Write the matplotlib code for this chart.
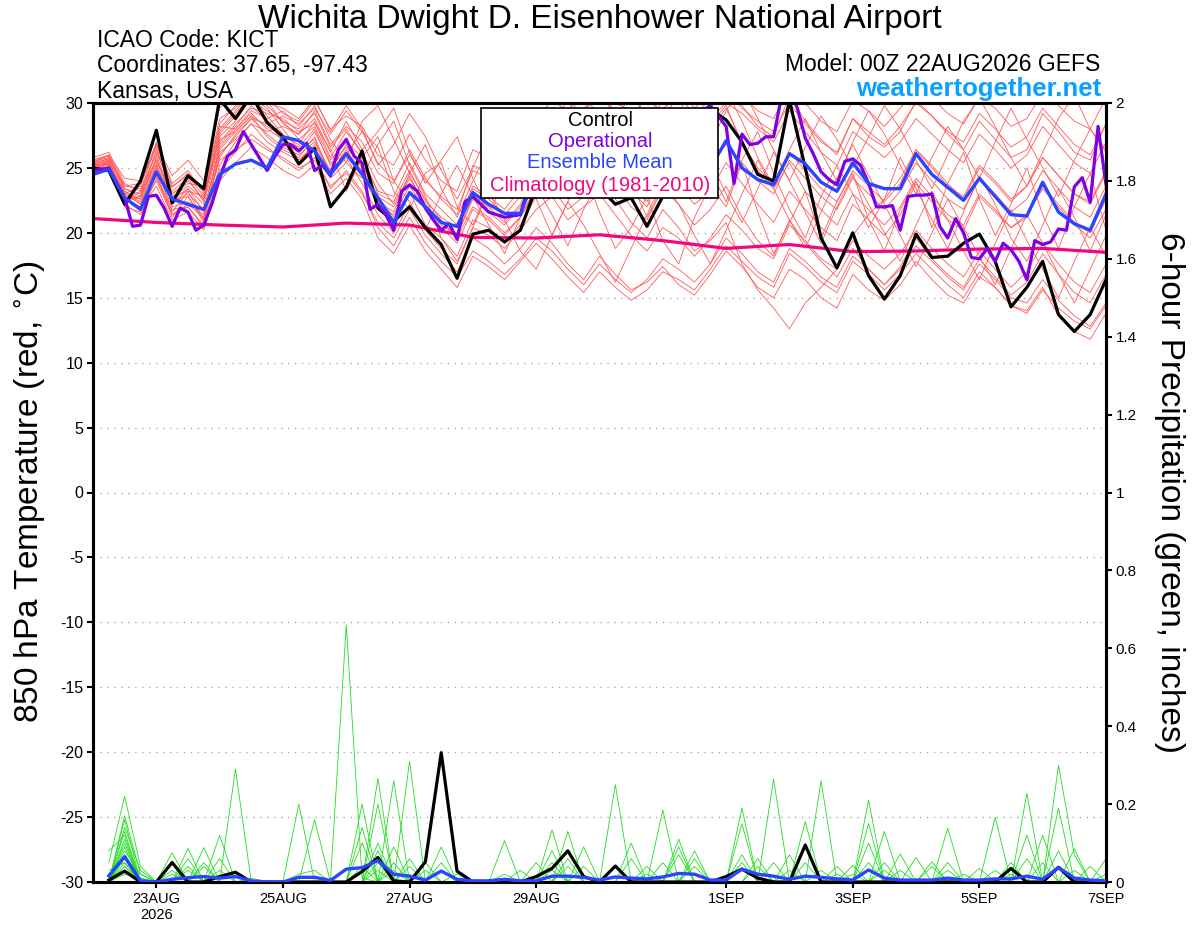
#!/usr/bin/env python3
"""
GEFS 850 hPa temperature / 6-hour precipitation plume for KICT.
"""

import matplotlib
matplotlib.use("Agg")
import matplotlib.pyplot as plt
import numpy as np
import pandas as pd
from matplotlib.patches import Rectangle

plt.rcParams["font.family"] = ["Liberation Sans", "DejaVu Sans"]
plt.rcParams["font.size"] = 10
plt.rcParams["axes.unicode_minus"] = False

# ---------------------------------------------------------------- data
run_start = "2026-08-22 00:00"
n6 = 65     # 6-hourly steps (ensemble, control, mean)
n3 = 129    # 3-hourly steps (operational)

control_t = [25.0, 24.8, 22.2, 24.0, 27.9, 22.3, 24.4, 23.4, 30.3, 28.8, 30.6, 28.5, 27.4, 25.3, 26.5, 22.0,
             23.5, 26.3, 21.9, 20.9, 22.0, 20.4, 19.1, 16.5, 19.9, 20.2, 19.3, 20.2, 23.5, 25.0, 24.0, 22.8,
             23.5, 22.2, 22.7, 20.5, 22.8, 25.5, 28.0, 29.5, 28.7, 27.0, 24.5, 24.0, 30.2, 25.0, 19.6, 17.3,
             20.0, 16.7, 14.9, 16.7, 19.9, 18.1, 18.2, 19.2, 19.9, 17.8, 14.3, 15.8, 17.8, 13.7, 12.4, 13.7,
             16.4]

mean_t = [24.5, 24.9, 22.7, 21.8, 24.7, 22.6, 22.2, 21.8, 24.5, 25.3, 25.6, 25.0, 27.4, 27.1, 26.3, 24.5,
          26.1, 24.5, 22.7, 20.8, 23.1, 22.0, 20.8, 20.5, 23.1, 22.2, 21.5, 21.5, 24.5, 25.5, 26.0, 25.6,
          26.0, 26.4, 26.0, 25.4, 26.3, 26.0, 25.7, 25.0, 27.1, 25.0, 24.1, 23.7, 26.1, 25.3, 23.9, 23.2,
          25.4, 23.8, 23.4, 23.4, 26.1, 24.5, 23.5, 22.5, 24.2, 22.8, 21.4, 21.3, 23.9, 21.6, 20.7, 20.2,
          23.0]

oper_t = [24.8, 24.9, 25.0, 23.8, 22.7, 20.5, 20.6, 22.8, 22.9, 21.9, 20.5, 21.9, 21.6, 20.2, 20.6, 22.2,
          24.2, 25.9, 26.4, 27.8, 26.8, 25.8, 24.8, 25.9, 26.8, 26.8, 26.3, 26.9, 24.8, 25.2, 24.4, 26.4,
          27.2, 25.9, 25.4, 21.8, 22.2, 21.4, 20.2, 23.2, 23.7, 23.2, 21.9, 21.0, 20.2, 20.7, 19.5, 22.4,
          22.8, 22.2, 21.6, 21.4, 21.2, 21.3, 21.4, 23.5, 25.0, 26.2, 25.5, 26.8, 27.5, 26.4, 25.8, 27.0,
          28.2, 27.4, 26.6, 25.9, 26.8, 27.6, 26.3, 25.4, 26.5, 27.8, 28.4, 27.2, 28.6, 29.4, 29.8, 29.0,
          28.2, 23.8, 27.6, 26.8, 26.9, 27.4, 27.4, 30.5, 31.0, 29.6, 27.3, 26.1, 24.7, 24.1, 23.7, 25.5,
          25.7, 25.2, 23.8, 22.0, 22.0, 22.1, 20.2, 22.8, 22.9, 22.9, 23.0, 20.5, 19.6, 21.1, 20.0, 18.1,
          18.0, 18.8, 17.8, 19.2, 18.7, 17.8, 16.4, 19.4, 19.1, 19.3, 20.3, 20.2, 23.55, 24.25, 22.35, 28.2,
          23.7]

# daily climatology 1981-2010
clim_t = [21.1, 20.8, 20.6, 20.45, 20.75, 20.6, 19.65, 19.6, 19.85, 19.4, 18.8, 19.1, 18.55, 18.6,
          18.75, 18.8, 18.5]

members_t = [
    [25.6, 25.9, 23.4, 23.0, 26.2, 23.5, 24.6, 23.2, 28.8, 29.6, 31.0, 30.2, 28.4, 27.6, 29.4, 26.8,
     28.2, 27.0, 24.6, 23.8, 26.4, 24.2, 22.6, 21.4, 25.2, 24.6, 23.8, 24.4, 27.6, 28.8, 27.4, 29.6,
     30.6, 29.2, 28.4, 27.6, 30.4, 31.2, 29.6, 30.8, 31.4, 29.8, 28.2, 27.4, 30.6, 28.6, 27.2, 26.0,
     28.8, 27.4, 26.6, 27.8, 30.2, 29.0, 27.6, 26.4, 28.6, 27.2, 25.8, 26.4, 29.2, 27.8, 26.2, 25.6, 28.4],
    [25.2, 25.4, 22.6, 22.0, 24.8, 22.0, 22.4, 21.4, 25.6, 26.4, 27.2, 26.4, 25.8, 25.0, 25.6, 23.6,
     24.6, 23.0, 20.8, 19.6, 21.8, 19.8, 18.4, 17.0, 19.6, 18.8, 17.6, 18.8, 20.4, 19.2, 17.6, 16.4,
     18.2, 16.8, 15.6, 16.2, 17.4, 16.0, 15.2, 16.8, 18.6, 17.4, 15.8, 15.0, 17.2, 16.4, 15.0, 14.2,
     16.8, 15.6, 14.8, 16.0, 17.8, 16.4, 15.2, 14.6, 16.6, 15.8, 14.4, 13.8, 15.6, 14.2, 13.2, 12.6, 14.4],
    [24.8, 25.1, 23.0, 22.4, 25.0, 21.6, 23.2, 21.0, 26.8, 28.2, 29.8, 28.6, 27.0, 26.2, 27.8, 25.4,
     26.0, 27.8, 26.6, 23.2, 21.8, 24.6, 25.4, 22.0, 20.6, 23.4, 25.8, 24.2, 22.6, 19.8, 22.4, 24.8,
     21.6, 18.8, 20.4, 22.8, 19.4, 17.6, 21.2, 23.6, 22.0, 25.4, 21.6, 18.4, 20.8, 23.2, 19.6, 22.4,
     24.6, 21.0, 18.6, 21.8, 24.0, 20.4, 23.8, 26.2, 22.6, 19.8, 22.2, 25.0, 21.4, 18.8, 22.0, 24.6, 20.2],
    [25.4, 26.0, 24.2, 24.0, 26.8, 24.4, 25.6, 24.0, 29.6, 30.8, 31.6, 30.4, 29.2, 28.6, 30.2, 28.0,
     29.0, 28.2, 26.0, 25.2, 27.6, 25.6, 24.0, 23.2, 26.4, 25.8, 24.8, 26.0, 28.8, 30.2, 29.4, 30.8,
     31.2, 30.0, 29.4, 28.6, 31.0, 31.6, 30.2, 31.4, 32.0, 30.6, 29.4, 28.8, 31.2, 30.0, 28.6, 27.8,
     30.2, 29.4, 28.2, 29.6, 31.0, 30.4, 29.2, 28.4, 30.4, 29.6, 28.2, 28.8, 30.8, 29.8, 28.6, 28.0, 30.4],
    [25.0, 25.3, 22.2, 21.4, 24.2, 21.8, 22.0, 20.6, 25.2, 27.0, 28.4, 27.8, 28.2, 27.6, 28.8, 26.2,
     28.6, 26.4, 27.8, 29.6, 26.2, 23.8, 25.6, 27.4, 24.2, 21.6, 23.8, 26.6, 28.2, 25.4, 23.2, 26.8,
     29.4, 27.0, 24.6, 26.2, 28.8, 30.6, 27.2, 24.8, 22.4, 25.6, 27.8, 24.6, 21.8, 19.6, 22.8, 25.2,
     23.0, 20.4, 22.6, 25.8, 23.4, 21.0, 18.8, 21.6, 24.4, 22.2, 19.6, 17.8, 20.6, 23.4, 21.2, 18.6, 21.4],
    [25.8, 26.2, 23.8, 23.2, 25.6, 22.8, 23.6, 22.6, 27.4, 28.6, 30.4, 29.6, 28.0, 26.4, 27.2, 24.6,
     26.2, 24.8, 22.8, 21.2, 23.2, 20.6, 19.6, 18.2, 21.0, 20.4, 19.2, 20.6, 22.8, 24.2, 22.6, 23.8,
     25.2, 23.6, 22.0, 21.0, 23.4, 22.2, 20.6, 21.8, 23.6, 21.2, 19.4, 18.2, 21.0, 19.2, 17.8, 16.6,
     18.8, 17.2, 16.0, 17.4, 19.6, 18.0, 16.8, 15.8, 18.0, 16.6, 15.2, 16.2, 18.4, 16.8, 15.4, 14.6, 16.8],
    [25.2, 25.6, 22.8, 22.6, 25.8, 22.4, 23.0, 21.8, 26.4, 27.8, 29.0, 28.2, 27.4, 26.8, 28.6, 25.8,
     27.8, 26.2, 23.8, 22.2, 24.4, 22.0, 20.6, 19.8, 22.8, 22.0, 20.8, 22.2, 24.6, 23.4, 21.8, 22.8,
     24.2, 22.6, 20.8, 19.6, 21.8, 20.4, 18.6, 19.4, 20.8, 17.6, 15.6, 14.2, 12.6, 14.6, 15.8, 17.2,
     19.8, 21.4, 22.6, 24.2, 26.4, 25.2, 23.8, 22.6, 25.0, 23.8, 22.4, 23.6, 25.8, 24.4, 23.0, 22.2, 24.6],
    [24.6, 24.9, 22.4, 22.8, 26.4, 23.2, 24.2, 22.4, 27.8, 29.2, 30.6, 29.0, 27.6, 25.6, 26.6, 24.2,
     25.4, 24.2, 26.8, 28.6, 25.2, 22.8, 19.6, 17.8, 20.4, 23.2, 21.0, 18.6, 17.2, 19.8, 22.4, 20.6,
     18.4, 16.2, 18.8, 21.4, 24.0, 22.2, 19.8, 17.6, 20.2, 23.0, 25.6, 23.4, 21.0, 18.8, 21.6, 24.2,
     26.8, 24.4, 22.2, 19.8, 17.4, 20.0, 22.6, 20.4, 18.2, 16.0, 18.8, 21.4, 19.2, 16.8, 14.6, 17.2, 19.8],
    [25.4, 25.7, 23.6, 23.8, 26.6, 23.0, 23.8, 23.6, 28.2, 28.0, 29.4, 28.8, 29.4, 28.2, 29.8, 27.2,
     25.4, 28.6, 29.8, 27.2, 24.6, 26.8, 23.4, 21.2, 24.0, 26.4, 24.8, 22.6, 25.8, 28.4, 30.2, 28.0,
     26.4, 28.8, 30.6, 29.0, 26.8, 24.4, 27.2, 29.6, 31.0, 28.6, 25.8, 23.6, 26.4, 28.8, 26.2, 24.0,
     27.0, 29.4, 27.6, 25.2, 23.0, 25.8, 28.2, 26.4, 24.2, 27.0, 29.6, 27.2, 25.0, 22.8, 25.6, 28.0, 26.2],
    [25.0, 25.2, 23.2, 22.2, 24.4, 21.2, 22.8, 20.8, 26.0, 27.4, 28.8, 27.6, 26.6, 26.0, 27.0, 24.8,
     26.8, 25.0, 22.4, 21.6, 24.6, 22.6, 21.0, 19.6, 22.0, 21.2, 20.0, 21.2, 23.2, 24.8, 23.6, 25.0,
     26.4, 24.6, 23.6, 22.4, 24.8, 23.6, 22.2, 23.2, 25.4, 23.8, 22.2, 20.8, 23.2, 21.8, 20.4, 19.4,
     22.2, 21.0, 19.8, 21.4, 23.8, 22.4, 21.0, 20.2, 22.8, 21.6, 20.4, 21.4, 23.4, 22.0, 20.6, 19.6, 21.8],
    [25.3, 25.5, 22.8, 21.8, 23.6, 21.0, 21.6, 20.2, 24.0, 25.4, 26.6, 25.8, 24.8, 24.2, 25.2, 23.0,
     24.2, 22.6, 19.6, 18.4, 20.6, 18.6, 17.2, 15.8, 18.2, 17.4, 16.4, 17.8, 19.2, 18.0, 16.6, 15.4,
     17.0, 15.8, 14.8, 15.6, 17.0, 16.4, 15.6, 17.2, 19.0, 17.8, 16.6, 15.8, 18.4, 17.4, 16.2, 15.4,
     17.8, 16.8, 15.6, 16.8, 18.4, 17.2, 16.0, 15.0, 17.0, 15.8, 14.4, 14.0, 15.8, 13.6, 12.4, 11.8, 13.8],
    [25.1, 25.4, 23.0, 23.6, 27.0, 23.8, 24.8, 23.0, 28.4, 29.8, 31.2, 29.8, 28.6, 27.2, 28.2, 25.6,
     27.0, 25.8, 23.2, 22.8, 25.4, 23.0, 21.8, 20.6, 23.6, 22.8, 21.8, 23.4, 25.8, 26.8, 25.4, 27.2,
     28.8, 27.4, 26.6, 25.4, 28.2, 29.0, 27.6, 28.8, 30.0, 29.2, 28.0, 27.0, 29.4, 27.8, 26.2, 25.2,
     27.8, 26.8, 25.8, 27.0, 28.8, 27.6, 26.4, 25.4, 27.6, 26.4, 25.0, 26.0, 28.2, 26.8, 25.4, 24.6, 27.0],
    [24.9, 25.3, 22.6, 22.8, 25.4, 22.2, 23.4, 22.2, 27.0, 28.4, 29.6, 29.2, 28.8, 27.8, 28.4, 26.4,
     23.2, 25.8, 27.4, 24.0, 22.4, 20.2, 23.0, 25.2, 22.8, 20.6, 18.4, 21.2, 23.6, 21.4, 19.0, 21.8,
     24.2, 26.6, 23.8, 21.2, 23.6, 26.0, 28.4, 25.6, 23.0, 20.8, 23.4, 26.2, 24.0, 21.6, 19.2, 22.0,
     24.4, 22.2, 20.0, 17.8, 20.6, 23.2, 21.0, 18.6, 16.4, 19.2, 21.8, 19.4, 17.2, 15.0, 17.8, 20.4, 18.2],
    [25.5, 25.8, 23.2, 22.6, 25.2, 22.6, 23.4, 21.6, 26.6, 28.0, 29.2, 28.0, 27.2, 26.6, 28.0, 25.2,
     26.6, 25.2, 22.8, 22.0, 24.2, 22.2, 20.8, 19.8, 22.6, 21.6, 20.6, 22.0, 24.4, 25.8, 24.6, 26.4,
     27.8, 26.4, 25.4, 24.2, 27.0, 28.2, 26.8, 28.0, 29.6, 27.0, 25.0, 23.8, 26.2, 24.8, 23.4, 22.4,
     24.8, 23.6, 22.4, 23.8, 26.4, 25.0, 23.6, 22.8, 25.2, 24.0, 22.6, 23.6, 25.8, 24.4, 23.0, 22.4, 24.8],
    [24.7, 25.0, 22.0, 21.6, 24.6, 21.4, 22.2, 21.2, 25.8, 27.6, 28.8, 28.4, 29.0, 28.4, 29.6, 27.6,
     29.4, 27.8, 25.4, 24.0, 26.0, 24.0, 22.8, 21.8, 24.8, 24.2, 23.2, 24.6, 27.0, 28.6, 27.8, 29.4,
     30.6, 29.4, 28.6, 27.2, 29.6, 30.4, 29.2, 30.2, 31.0, 29.6, 28.6, 27.8, 30.0, 28.4, 27.0, 26.2,
     28.8, 27.8, 26.8, 28.2, 30.0, 29.0, 27.8, 27.0, 29.2, 28.0, 26.6, 27.4, 29.6, 28.2, 26.8, 26.0, 28.4],
    [25.6, 26.0, 23.6, 23.4, 26.0, 22.8, 23.2, 22.8, 27.2, 27.8, 29.0, 27.4, 26.4, 25.8, 27.4, 24.4,
     25.8, 23.8, 21.4, 20.0, 22.2, 20.2, 18.8, 17.6, 20.4, 19.8, 18.8, 20.2, 21.8, 22.8, 21.0, 22.0,
     23.0, 21.4, 19.8, 18.6, 20.4, 19.6, 18.2, 19.6, 21.4, 20.2, 18.8, 18.0, 20.6, 19.4, 18.0, 17.2,
     19.4, 18.2, 17.2, 18.4, 20.2, 18.8, 17.6, 16.6, 18.6, 17.2, 15.8, 17.0, 19.2, 17.6, 16.2, 15.4, 17.6],
    [25.3, 25.6, 22.4, 23.2, 26.8, 23.6, 24.4, 22.8, 28.0, 29.4, 30.8, 30.0, 29.6, 28.8, 30.4, 27.8,
     29.8, 28.0, 25.2, 26.8, 29.2, 27.4, 24.8, 22.6, 25.0, 27.8, 29.4, 26.6, 24.2, 26.4, 28.8, 31.0,
     28.6, 26.2, 28.4, 30.8, 29.0, 26.4, 24.2, 26.8, 29.4, 31.2, 28.8, 26.4, 24.0, 26.6, 29.0, 27.2,
     25.0, 27.4, 29.8, 28.0, 25.6, 23.4, 26.0, 28.6, 30.4, 28.2, 25.8, 23.6, 26.2, 28.8, 30.6, 28.0, 26.4],
    [25.0, 25.5, 23.0, 22.2, 25.2, 22.4, 22.8, 21.0, 26.2, 27.2, 28.4, 27.0, 26.2, 25.6, 26.8, 24.6,
     26.4, 24.6, 22.0, 21.4, 23.6, 21.8, 20.4, 19.2, 21.8, 21.0, 19.8, 21.2, 23.4, 24.4, 23.0, 24.4,
     25.6, 24.2, 23.2, 22.0, 24.6, 25.6, 24.2, 25.4, 26.8, 25.4, 24.0, 23.0, 25.6, 24.2, 22.8, 21.8,
     24.2, 23.0, 21.8, 23.2, 25.4, 24.0, 22.6, 21.8, 24.2, 23.0, 21.6, 22.6, 24.8, 23.4, 22.0, 21.2, 23.6],
    [25.2, 25.3, 22.6, 22.0, 24.0, 21.4, 22.0, 20.4, 24.8, 26.2, 27.6, 26.6, 25.6, 24.8, 25.8, 23.4,
     24.8, 23.2, 20.4, 19.0, 21.2, 19.2, 17.8, 16.6, 18.6, 17.8, 16.8, 18.0, 19.6, 18.6, 17.2, 16.0,
     17.6, 16.4, 15.4, 16.4, 18.0, 17.2, 16.2, 17.6, 19.6, 18.4, 17.0, 16.2, 18.8, 17.8, 16.6, 15.8,
     18.2, 17.2, 16.0, 17.2, 19.0, 17.8, 16.6, 15.6, 17.6, 16.4, 15.0, 14.6, 16.4, 14.8, 13.6, 12.8, 14.6],
    [25.4, 25.7, 23.4, 22.8, 25.6, 23.0, 24.0, 22.6, 27.6, 29.0, 30.2, 29.4, 28.6, 28.0, 29.2, 26.6,
     28.0, 26.0, 23.0, 22.4, 24.8, 22.4, 21.2, 20.4, 23.4, 22.6, 21.4, 22.8, 25.0, 26.2, 25.0, 26.8,
     28.0, 26.6, 25.6, 24.6, 27.4, 28.6, 27.2, 28.4, 29.8, 26.8, 24.8, 23.4, 25.4, 23.2, 21.8, 20.6,
     23.0, 21.8, 20.6, 22.0, 24.2, 22.8, 21.4, 20.6, 23.0, 21.8, 20.4, 21.2, 23.6, 22.2, 20.8, 20.0, 22.6],
]

# 6-hour precipitation (inches), valid 06Z 22AUG .. 00Z 7SEP
control_p = [.005, .028, 0, 0, .05, 0, 0, .014, .025, 0, 0, 0, 0, 0, 0, 0,
             .027, .063, .003, 0, .052, .332, .028, 0, 0, 0, 0, .014, .035, .08, .014, 0,
             .041, 0, 0, 0, 0, 0, 0, .014, .033, .01, 0, 0, .095, 0, 0, 0,
             0, 0, 0, 0, 0, 0, 0, 0, 0, .035, 0, 0, .038, 0, 0, 0]

mean_p = [.016, .065, .003, 0, .007, .011, .014, .01, .014, .003, 0, 0, .012, .012, .004, .033,
          .037, .055, .02, .015, .005, .028, .007, .003, .003, .007, .003, .003, .015, .015, .012, .005,
          .013, .01, .008, .013, .022, .02, .005, .005, .033, .02, .015, .007, .015, .012, .008, .005,
          .031, .01, .005, .005, .005, .01, .005, .005, .008, .008, .015, .007, .037, .01, .005, .003]

members_p = [
    [.05, .22, .04, 0, 0, 0, 0, 0, .29, 0, 0, 0, 0, 0, 0, .66,
     .01, 0, 0, 0, 0, 0, 0, 0, 0, 0, 0, 0, .134, 0, 0, 0,
     0, 0, 0, 0, 0, 0, 0, 0, 0, 0, .264, 0, 0, 0, 0, 0,
     0, 0, 0, 0, 0, 0, 0, 0, 0, 0, 0, 0, .3, .07, 0, 0],
    [0, .17, .02, 0, 0, .086, 0, 0, 0, 0, 0, 0, .2, 0, 0, 0,
     0, .266, 0, 0, 0, 0, 0, 0, 0, 0, 0, 0, 0, 0, 0, 0,
     .25, 0, 0, 0, 0, 0, 0, 0, 0, 0, 0, 0, 0, .26, 0, 0,
     0, 0, 0, 0, 0, 0, 0, 0, 0, 0, .228, 0, 0, 0, 0, 0],
    [0, .16, 0, 0, 0, 0, 0, .12, 0, 0, 0, 0, 0, 0, 0, 0,
     .2, 0, 0, .31, 0, 0, 0, 0, 0, 0, 0, 0, 0, 0, 0, 0,
     0, 0, 0, .185, 0, 0, 0, 0, 0, 0, 0, 0, 0, 0, 0, 0,
     .21, 0, 0, 0, 0, 0, 0, 0, .166, 0, 0, 0, 0, 0, 0, 0],
    [0, .14, .03, 0, .075, 0, 0, 0, 0, 0, 0, 0, 0, .16, 0, 0,
     0, 0, .26, 0, 0, 0, 0, 0, 0, 0, 0, 0, 0, 0, 0, 0,
     0, 0, 0, 0, 0, 0, 0, 0, .19, 0, 0, 0, .155, 0, 0, 0,
     0, 0, 0, 0, 0, .138, 0, 0, 0, 0, 0, 0, 0, 0, 0, 0],
    [0, .13, 0, 0, 0, 0, .088, 0, 0, 0, 0, 0, 0, 0, 0, 0,
     0, .2, 0, 0, 0, 0, 0, 0, 0, .106, 0, 0, 0, .13, 0, 0,
     0, 0, 0, 0, 0, 0, 0, 0, 0, 0, 0, 0, 0, 0, 0, 0,
     .15, 0, 0, 0, 0, 0, 0, 0, 0, 0, 0, 0, .19, 0, 0, 0],
    [.08, .12, 0, 0, 0, .06, 0, 0, 0, 0, 0, 0, 0, 0, 0, 0,
     .14, 0, 0, 0, 0, .09, 0, 0, 0, 0, 0, 0, 0, 0, 0, 0,
     0, .1, 0, 0, 0, 0, 0, 0, .15, 0, 0, 0, 0, 0, 0, 0,
     0, .13, 0, 0, 0, 0, 0, 0, 0, 0, 0, 0, 0, 0, 0, 0],
    [0, .1, 0, 0, 0, 0, 0, 0, 0, 0, 0, 0, 0, 0, 0, 0,
     0, .1, 0, 0, 0, 0, 0, 0, 0, 0, 0, 0, 0, 0, .09, 0,
     0, 0, 0, 0, .11, 0, 0, 0, 0, 0, 0, 0, 0, 0, 0, 0,
     .1, 0, 0, 0, 0, 0, 0, 0, 0, 0, 0, .12, 0, 0, 0, .06],
    [0, .08, .02, 0, 0, 0, .05, 0, 0, 0, 0, 0, 0, 0, 0, 0,
     .1, 0, 0, 0, .05, 0, 0, 0, 0, 0, 0, 0, 0, 0, 0, 0,
     0, 0, 0, 0, .09, 0, 0, 0, 0, 0, .05, 0, 0, 0, 0, 0,
     0, 0, 0, 0, 0, 0, 0, 0, 0, 0, 0, 0, 0, .085, 0, 0],
    [0, .06, 0, 0, 0, 0, 0, .06, 0, 0, 0, 0, 0, 0, 0, 0,
     0, .08, 0, 0, 0, 0, 0, 0, 0, 0, 0, 0, .08, 0, 0, 0,
     0, 0, 0, 0, 0, .08, 0, 0, 0, 0, 0, 0, 0, 0, 0, 0,
     0, 0, .072, 0, 0, 0, 0, 0, 0, 0, .12, 0, 0, 0, 0, 0],
    [.03, .05, 0, 0, 0, .04, 0, 0, 0, 0, 0, 0, 0, 0, 0, 0,
     0, 0, .09, 0, 0, 0, 0, 0, 0, 0, 0, 0, 0, .06, 0, 0,
     0, 0, 0, 0, 0, 0, 0, 0, 0, .06, 0, 0, 0, 0, 0, 0,
     0, 0, 0, .063, 0, 0, 0, 0, 0, 0, 0, 0, .08, 0, 0, 0],
    [0, .04, 0, 0, .03, 0, 0, 0, 0, 0, 0, 0, 0, 0, 0, 0,
     0, .05, 0, 0, 0, .05, 0, 0, 0, 0, 0, 0, 0, 0, 0, 0,
     0, 0, 0, 0, .07, 0, 0, 0, 0, 0, 0, 0, .05, 0, 0, 0,
     0, 0, 0, 0, .052, 0, 0, 0, 0, 0, 0, .05, 0, 0, 0, 0],
    [0, .03, 0, 0, 0, 0, .04, 0, 0, 0, 0, 0, 0, 0, 0, 0,
     0, 0, 0, .06, 0, 0, 0, 0, 0, 0, 0, .05, 0, 0, 0, 0,
     0, 0, 0, 0, 0, 0, 0, 0, .07, 0, 0, 0, 0, 0, 0, 0,
     0, .05, 0, 0, 0, 0, 0, 0, 0, .05, 0, 0, 0, 0, 0, 0],
    [0, .09, 0, 0, 0, .03, 0, 0, 0, 0, 0, 0, 0, 0, 0, 0,
     .04, 0, 0, 0, 0, 0, 0, 0, 0, 0, 0, 0, .05, 0, 0, 0,
     0, 0, 0, 0, 0, .06, 0, 0, 0, 0, 0, .07, 0, 0, 0, 0,
     0, 0, 0, 0, 0, .05, 0, 0, 0, 0, 0, 0, 0, 0, .04, 0],
    [0, .07, .01, 0, 0, 0, 0, 0, 0, 0, 0, 0, 0, 0, 0, 0,
     0, 0, .05, 0, 0, 0, 0, 0, 0, 0, 0, 0, 0, 0, .04, 0,
     0, 0, .04, 0, 0, 0, 0, 0, 0, 0, 0, 0, 0, 0, 0, .043,
     0, 0, 0, 0, 0, 0, 0, 0, .03, 0, 0, 0, 0, .03, 0, 0],
    [0, .11, 0, 0, 0, 0, 0, .03, 0, 0, 0, 0, 0, 0, 0, 0,
     0, .03, 0, 0, 0, 0, .02, 0, 0, 0, 0, 0, 0, 0, 0, 0,
     .04, 0, 0, 0, 0, 0, 0, 0, 0, 0, 0, 0, 0, 0, .04, 0,
     0, 0, 0, 0, .04, 0, 0, 0, 0, 0, 0, 0, 0, 0, 0, .02],
    [.02, .06, 0, 0, .02, 0, 0, 0, 0, 0, 0, 0, 0, 0, 0, 0,
     0, 0, 0, .04, 0, 0, 0, 0, 0, 0, 0, 0, 0, .04, 0, 0,
     0, 0, 0, 0, 0, 0, 0, 0, 0, .04, 0, 0, 0, 0, 0, 0,
     .05, 0, 0, 0, 0, 0, 0, 0, 0, 0, .06, 0, 0, 0, 0, 0],
    [0, .05, 0, 0, 0, 0, 0, 0, 0, 0, 0, 0, 0, 0, 0, 0,
     0, 0, 0, 0, .03, 0, 0, 0, 0, 0, .03, 0, 0, 0, 0, 0,
     0, .06, 0, 0, 0, 0, 0, 0, 0, 0, 0, .03, 0, 0, 0, 0,
     0, .03, 0, 0, 0, 0, 0, .035, 0, 0, 0, 0, 0, 0, 0, 0],
    [0, .04, 0, 0, 0, 0, 0, 0, 0, .01, 0, 0, 0, 0, 0, 0,
     0, 0, .03, 0, 0, 0, 0, 0, 0, 0, 0, 0, .03, 0, 0, 0,
     0, 0, 0, 0, 0, 0, 0, 0, .05, 0, 0, 0, 0, .03, 0, 0,
     0, 0, 0, 0, 0, 0, 0, 0, 0, 0, 0, 0, .04, 0, 0, 0],
    [0, .03, 0, 0, 0, 0, 0, 0, 0, 0, 0, 0, 0, 0, 0, 0,
     0, 0, 0, 0, 0, .03, 0, 0, 0, 0, 0, 0, 0, 0, 0, 0,
     0, 0, .02, 0, 0, .04, 0, 0, 0, 0, 0, 0, 0, 0, .02, 0,
     0, 0, .03, 0, 0, 0, .02, 0, 0, 0, 0, 0, 0, 0, 0, 0],
    [0, .02, .01, 0, 0, 0, 0, 0, 0, 0, 0, 0, .02, .03, 0, 0,
     0, 0, 0, 0, 0, 0, 0, 0, 0, .02, 0, 0, 0, 0, 0, 0,
     0, 0, 0, .05, 0, 0, 0, 0, 0, 0, 0, 0, 0, 0, 0, .02,
     0, 0, 0, 0, 0, .03, 0, 0, 0, .02, 0, 0, 0, 0, 0, 0],
]

tick_days = ["2026-08-23", "2026-08-25", "2026-08-27", "2026-08-29",
             "2026-09-01", "2026-09-03", "2026-09-05", "2026-09-07"]
tick_labels = ["23AUG\n2026", "25AUG", "27AUG", "29AUG", "1SEP", "3SEP", "5SEP", "7SEP"]

legend_entries = [("Control", "black"), ("Operational", "#7f00e0"),
                  ("Ensemble Mean", "#2a45ff"), ("Climatology (1981-2010)", "#f0087c")]

# ---------------------------------------------------------------- plot
t6 = pd.date_range(run_start, periods=n6, freq="6h")
t3 = pd.date_range(run_start, periods=n3, freq="3h")
tday = pd.date_range(run_start, periods=len(clim_t), freq="D")

fig = plt.figure(figsize=(12, 9.27), dpi=100)
ax = fig.add_axes([93 / 1200, 45 / 927, 1013 / 1200, 779 / 927])
ax2 = ax.twinx()

for m in members_t:
    ax.plot(t6, m, color="#ff5a5a", lw=0.6, zorder=2)
ax.plot(tday, clim_t, color="#f0087c", lw=2.3, zorder=3)
ax.plot(t6, control_t, color="black", lw=2.3, zorder=4)
ax.plot(t3, oper_t, color="#7f00e0", lw=2.3, zorder=5)
ax.plot(t6, mean_t, color="#2a45ff", lw=2.4, zorder=6)

for m in members_p:
    ax2.plot(t6[1:], m, color="#22dd22", lw=0.6, zorder=2)
ax2.plot(t6[1:], control_p, color="black", lw=2.3, zorder=4)
ax2.plot(t6[1:], mean_p, color="#2a45ff", lw=2.4, zorder=5)

ax.set_xlim(t6[0], t6[-1])
ax.set_ylim(-30, 30)
ax2.set_ylim(0, 2)
ax.set_yticks(np.arange(-30, 31, 5))
ax2.set_yticks(np.arange(0, 2.01, 0.2))
ax2.set_yticklabels([f"{v:g}" for v in np.arange(0, 2.01, 0.2).round(1)])
ax.set_xticks(pd.to_datetime(tick_days))
ax.set_xticklabels(tick_labels)

for y in range(-25, 30, 5):
    ax.axhline(y, color="#aaaaaa", lw=1.0, ls=(0, (1, 4)), zorder=1)

for a in (ax, ax2):
    a.tick_params(direction="out", length=4, width=1.5, labelsize=10.5, pad=3)
    for s in a.spines.values():
        s.set_linewidth(2.2)
ax.tick_params(axis="y", labelsize=11.5)
ax2.tick_params(axis="y", labelsize=11)

# legend box
ax2.add_patch(Rectangle((0.383, 0.878), 0.234, 0.1156, transform=ax2.transAxes,
                        facecolor="white", edgecolor="black", lw=1.2, zorder=10))
for (txt, col), yy in zip(legend_entries, [0.977, 0.951, 0.923, 0.894]):
    ax2.text(0.5005, yy, txt, color=col, fontsize=14.5, ha="center", va="center",
             transform=ax2.transAxes, zorder=11)

# header texts
fig.text(0.5, 1 - 28 / 927, "Wichita Dwight D. Eisenhower National Airport",
         ha="center", va="baseline", fontsize=24)
fig.text(97 / 1200, 1 - 47 / 927, "ICAO Code: KICT", fontsize=16.5, va="baseline")
fig.text(97 / 1200, 1 - 72 / 927, "Coordinates: 37.65, -97.43", fontsize=16.5, va="baseline")
fig.text(97 / 1200, 1 - 98 / 927, "Kansas, USA", fontsize=16.5, va="baseline")
fig.text(1100 / 1200, 1 - 71 / 927, "Model: 00Z 22AUG2026 GEFS", fontsize=16.5,
         ha="right", va="baseline")
fig.text(1101 / 1200, 1 - 96 / 927, "weathertogether.net", fontsize=18.5, fontweight="bold",
         color="#0aa0ff", ha="right", va="baseline")

fig.text(30 / 1200, 1 - 492 / 927, r"850 hPa Temperature (red, $^{\circ}$C)",
         rotation=90, ha="center", va="center", fontsize=24)
fig.text(1170 / 1200, 1 - 492 / 927, "6-hour Precipitation (green, inches)",
         rotation=270, ha="center", va="center", fontsize=24)

fig.savefig("out.png", dpi=100)
